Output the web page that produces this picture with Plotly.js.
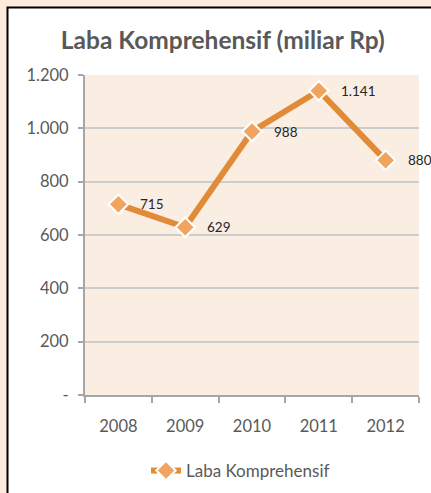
<!DOCTYPE html>
<html>
<head>
<meta charset="utf-8">
<script src="https://cdn.plot.ly/plotly-3.0.1.min.js"></script>
<style>html,body{margin:0;padding:0;background:#FDEADA;}#chart{width:431px;height:493px;}</style>
</head>
<body>
<div id="chart"></div>
<script>
var years = ["2008", "2009", "2010", "2011", "2012"];
var laba = [715, 629, 988, 1141, 880];
var labaLabels = ["715", "629", "988", "1.141", "880"];
var yTickVals = [0, 200, 400, 600, 800, 1000, 1200];
var yTickText = ["-", "200", "400", "600", "800", "1.000", "1.200"];
var seriesName = "Laba Komprehensif";
var chartTitle = "Laba Komprehensif (miliar Rp)";

var FONT = "Lato, 'Open Sans', sans-serif";

var trace = {
  x: years, y: laba, type: "scatter", mode: "lines+markers", name: seriesName,
  line: {color: "#E18A38", width: 6},
  marker: {symbol: "diamond", size: 15, color: "#F0A460", line: {color: "#FFFFFF", width: 2}},
  hoverinfo: "none"
};

var annotations = years.map(function (yr, i) {
  return {x: i, y: laba[i], xref: "x", yref: "y", text: labaLabels[i], showarrow: false, xanchor: "left", yanchor: "middle",
    xshift: 20, yshift: 0, font: {family: FONT, size: 13.5, color: "#262626"}};
});

var layout = {
  width: 431, height: 493,
  margin: {l: 85, r: 12, t: 75, b: 98},
  paper_bgcolor: "#FDEADA",
  plot_bgcolor: "rgba(0,0,0,0)",
  showlegend: true,
  title: {text: "<b>" + chartTitle + "</b>", x: 0.517, xref: "container", xanchor: "center",
    y: 1 - 40/493, yref: "container", yanchor: "middle",
    font: {family: FONT, size: 24.5, color: "#595959"}},
  xaxis: {type: "category", range: [-0.5, 4.5], tickson: "boundaries", ticks: "outside", ticklen: 6, tickcolor: "#A6A6A6", tickwidth: 2,
    showline: true, linecolor: "#A6A6A6", linewidth: 2, showgrid: false, zeroline: false,
    tickfont: {family: FONT, size: 16.5, color: "#595959"}, ticklabelstandoff: 15, fixedrange: true},
  yaxis: {range: [0, 1200], tickvals: yTickVals, ticktext: yTickText, ticks: "outside", ticklen: 5,
    tickcolor: "#A6A6A6", tickwidth: 2, showline: true, linecolor: "#A6A6A6", linewidth: 2,
    showgrid: true, gridcolor: "#CDCDCD", gridwidth: 2, zeroline: false,
    tickfont: {family: FONT, size: 16.5, color: "#595959"}, ticklabelstandoff: 6, fixedrange: true},
  legend: {orientation: "h", xref: "container", yref: "container", x: 0.558, xanchor: "center",
    y: 22/493, yanchor: "middle", font: {family: FONT, size: 17, color: "#595959"}, bgcolor: "rgba(0,0,0,0)"},
  shapes: [
    {type: "rect", xref: "paper", yref: "paper", x0: (7.5-85)/334, x1: (440-85)/334, y0: (395-500)/320, y1: (395-7.5)/320,
      fillcolor: "#FFFFFF", line: {color: "#000000", width: 2}, layer: "below"},
    {type: "rect", xref: "paper", yref: "paper", x0: 0, x1: 1, y0: 0, y1: 1,
      fillcolor: "#FAEDE2", line: {width: 0}, layer: "below"}
  ],
  annotations: annotations
};

Plotly.newPlot("chart", [trace], layout, {displayModeBar: false, staticPlot: true});
</script>
</body>
</html>
